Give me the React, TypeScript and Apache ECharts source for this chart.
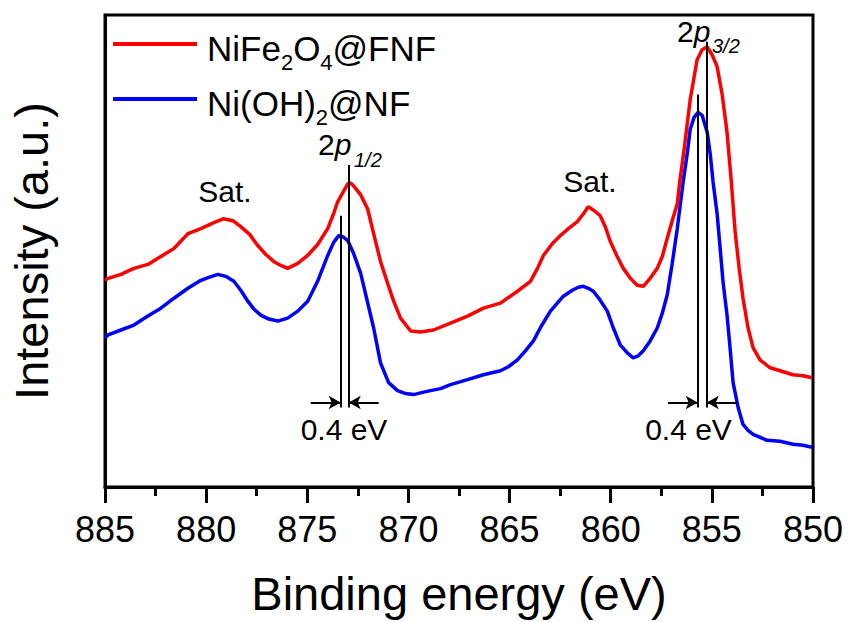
import React, { useEffect, useRef } from "react";
import * as echarts from "echarts";

// Binding energy (eV) and intensity (a.u.)
const redEnergy = [
  885.0, 884.85, 884.21, 883.57, 882.88, 882.24, 881.59, 880.9, 880.26, 879.62, 879.13, 878.68, 878.29,
  877.84, 877.45, 877.05, 876.66, 876.31, 875.97, 875.47, 874.98, 874.49, 873.99, 873.7, 873.5, 873.25,
  873.0, 872.86, 872.71, 872.36, 872.02, 871.72, 871.38, 871.03, 870.73, 870.39, 869.89, 869.4, 868.76,
  867.92, 867.08, 866.29, 865.45, 864.61, 863.97, 863.62, 863.33, 862.88, 862.49, 862.09, 861.65, 861.35,
  861.11, 860.81, 860.52, 860.27, 860.02, 859.68, 859.38, 859.03, 858.69, 858.39, 858.05, 857.7, 857.45,
  857.21, 856.96, 856.71, 856.57, 856.37, 856.07, 855.73, 855.48, 855.23, 854.99, 854.74, 854.49, 854.25,
  854.05, 853.85, 853.65, 853.46, 853.21, 852.96, 852.62, 852.12, 851.63, 850.99, 850.49, 850.05,
];
const redIntensity = [
  208, 210, 214, 220, 224, 232, 240, 255, 260, 266, 270, 268, 262,
  254, 243, 234, 227, 223, 220, 225, 233, 244, 260, 275, 287, 296,
  305, 306, 303, 294, 280, 255, 227, 205, 187, 170, 157, 156, 158,
  165, 172, 180, 185, 197, 207, 220, 233, 245, 253, 260, 267, 275,
  282, 278, 273, 262, 247, 232, 220, 210, 203, 202, 210, 220, 232,
  250, 268, 285, 310, 340, 390, 430, 440, 443, 435, 423, 395, 357,
  310, 257, 220, 190, 160, 140, 128, 120, 117, 113, 112, 110,
];

const blueEnergy = [
  885.0, 884.85, 884.21, 883.57, 882.88, 882.24, 881.59, 880.9, 880.26, 879.87, 879.42, 879.03, 878.63,
  878.29, 877.94, 877.64, 877.3, 876.9, 876.46, 875.97, 875.47, 874.98, 874.49, 873.99, 873.7, 873.45,
  873.25, 873.0, 872.71, 872.36, 872.07, 871.72, 871.38, 870.98, 870.54, 870.14, 869.75, 869.35, 868.91,
  868.41, 867.92, 867.08, 866.29, 865.45, 865.06, 864.61, 864.22, 863.82, 863.43, 862.98, 862.64, 862.34,
  861.9, 861.6, 861.35, 861.11, 860.86, 860.52, 860.17, 859.87, 859.53, 859.18, 858.89, 858.64, 858.39,
  858.05, 857.7, 857.45, 857.21, 856.96, 856.71, 856.42, 856.22, 856.07, 855.88, 855.68, 855.48, 855.23,
  855.08, 854.94, 854.74, 854.59, 854.44, 854.25, 854.1, 853.95, 853.7, 853.46, 853.21, 852.96, 852.27,
  851.63, 850.99, 850.49, 850.05,
];
const blueIntensity = [
  150, 153, 158, 163, 172, 180, 190, 200, 208, 211, 214, 212, 207,
  198, 187, 179, 173, 169, 167, 170, 177, 187, 207, 233, 246, 253,
  252, 248, 235, 215, 190, 160, 125, 105, 97, 94, 93, 95, 97,
  99, 103, 108, 113, 117, 121, 128, 137, 147, 162, 177, 185, 192,
  198, 201, 202, 200, 197, 188, 177, 160, 143, 135, 130, 132, 137,
  147, 160, 175, 193, 225, 260, 307, 335, 360, 372, 377, 374, 357,
  335, 307, 275, 240, 205, 173, 140, 105, 80, 63, 57, 53, 47,
  46, 43, 42, 40,
];

const seriesNames = ["NiFe2O4@FNF", "Ni(OH)2@NF"];
const legendRich = ["{f|NiFe}{s|2}{a|O}{s|4}{a|@FNF}", "{f|Ni(OH)}{s|2}{a|@NF}"];
const xTicks = { min: 850, max: 885, interval: 5 };

// peak marker positions (eV) and heights
const peakLines = [
  { e: 873.35, top: 273 },
  { e: 872.95, top: 324 },
  { e: 855.7, top: 395 },
  { e: 855.25, top: 448 },
];
const lineBottom = 80;
const arrowLevel = 85;
const arrows = [
  { from: 874.83, to: 873.35 },
  { from: 871.47, to: 872.95 },
  { from: 857.16, to: 855.7 },
  { from: 853.75, to: 855.25 },
];

const FONT = "Arial, 'Liberation Sans', Helvetica, sans-serif";

export default function App() {
  const ref = useRef<HTMLDivElement>(null);
  useEffect(() => {
    if (!ref.current) return;
    const chart = echarts.init(ref.current, null, { renderer: "svg" });
    const markData: any[] = [];
    peakLines.forEach((p) => {
      markData.push([{ coord: [p.e, p.top] }, { coord: [p.e, lineBottom] }]);
    });
    arrows.forEach((a) => {
      markData.push([
        { coord: [a.from, arrowLevel], symbol: "none" },
        { coord: [a.to, arrowLevel], symbol: "arrow", symbolSize: [10, 12] },
      ]);
    });
    const txt = (text: string, x: number, y: number, size: number, align = "center", italic = false) => ({
      type: "text",
      x,
      y,
      silent: true,
      style: {
        text,
        fontSize: size,
        fontFamily: FONT,
        fontStyle: italic ? "italic" : "normal",
        fill: "#000",
        align,
        verticalAlign: "middle",
      },
    });
    const twoP = (x: number, y: number) => ({
      type: "text",
      x,
      y,
      silent: true,
      style: {
        text: "{n|2}{i|p}",
        verticalAlign: "middle",
        align: "left",
        rich: {
          n: { fontSize: 30, fontFamily: FONT, fill: "#000", color: "#000" },
          i: { fontSize: 30, fontFamily: FONT, fontStyle: "italic", fill: "#000", color: "#000" },
        },
      },
    });
    chart.setOption({
      animation: false,
      backgroundColor: "#fff",
      grid: {
        left: 104,
        right: 36,
        top: 15,
        bottom: 132,
        show: true,
        borderColor: "#000",
        borderWidth: 3,
      },
      legend: {
        orient: "vertical",
        left: 113,
        top: 15,
        padding: 0,
        icon: "rect",
        itemWidth: 84,
        itemHeight: 4,
        itemGap: -3,
        data: seriesNames,
        formatter: (name: string) => legendRich[seriesNames.indexOf(name)],
        textStyle: {
          fontSize: 35,
          fontFamily: FONT,
          color: "#000",
          rich: {
            f: { fontSize: 35, fontFamily: FONT, color: "#000", lineHeight: 40, padding: [8, 0, 0, 5] },
            a: { fontSize: 35, fontFamily: FONT, color: "#000", lineHeight: 40, padding: [8, 0, 0, 0] },
            s: { fontSize: 22, fontFamily: FONT, color: "#000", lineHeight: 22, padding: [36, 0, 0, 0] },
          },
        },
      },
      xAxis: {
        type: "value",
        inverse: true,
        min: xTicks.min,
        max: xTicks.max,
        interval: xTicks.interval,
        name: "Binding energy (eV)",
        nameLocation: "middle",
        nameGap: 83,
        nameTextStyle: { fontSize: 47, fontFamily: FONT, color: "#000" },
        axisLine: { show: true, lineStyle: { color: "#000", width: 3 } },
        axisTick: { show: true, inside: false, length: 16, lineStyle: { color: "#000", width: 3 } },
        minorTick: { show: true, splitNumber: 2, length: 9, lineStyle: { color: "#000", width: 3 } },
        axisLabel: { fontSize: 36, fontFamily: FONT, color: "#000", margin: 24 },
        splitLine: { show: false },
      },
      yAxis: {
        type: "value",
        min: 0,
        max: 475,
        name: "Intensity (a.u.)",
        nameLocation: "middle",
        nameGap: 50,
        nameTextStyle: { fontSize: 47, fontFamily: FONT, color: "#000" },
        axisLine: { show: true, lineStyle: { color: "#000", width: 3 } },
        axisTick: { show: false },
        axisLabel: { show: false },
        splitLine: { show: false },
      },
      series: [
        {
          name: seriesNames[0],
          type: "line",
          symbol: "none",
          showSymbol: false,
          color: "#ff0000",
          lineStyle: { color: "#ff0000", width: 3.5 },
          data: redEnergy.map((e, i) => [e, redIntensity[i]]),
          z: 3,
        },
        {
          name: seriesNames[1],
          type: "line",
          symbol: "none",
          showSymbol: false,
          color: "#0000ff",
          lineStyle: { color: "#0000ff", width: 3.5 },
          data: blueEnergy.map((e, i) => [e, blueIntensity[i]]),
          z: 2,
          markLine: {
            silent: true,
            symbol: "none",
            label: { show: false },
            lineStyle: { color: "#000", width: 2, type: "solid" },
            data: markData,
            z: 5,
          },
        },
      ],
      graphic: [
        txt("Sat.", 225, 191, 30),
        txt("Sat.", 590, 181, 30),
        twoP(318, 144.6),
        txt("1/2", 354, 160, 20, "left", true),
        twoP(677, 31.6),
        txt("3/2", 712, 46, 20, "left", true),
        txt("0.4 eV", 344, 429.6, 30),
        txt("0.4 eV", 688.5, 429.6, 30),
      ],
    });
    return () => chart.dispose();
  }, []);
  return <div ref={ref} style={{ position: "absolute", left: 0, top: 0, width: 849, height: 622 }} />;
}
